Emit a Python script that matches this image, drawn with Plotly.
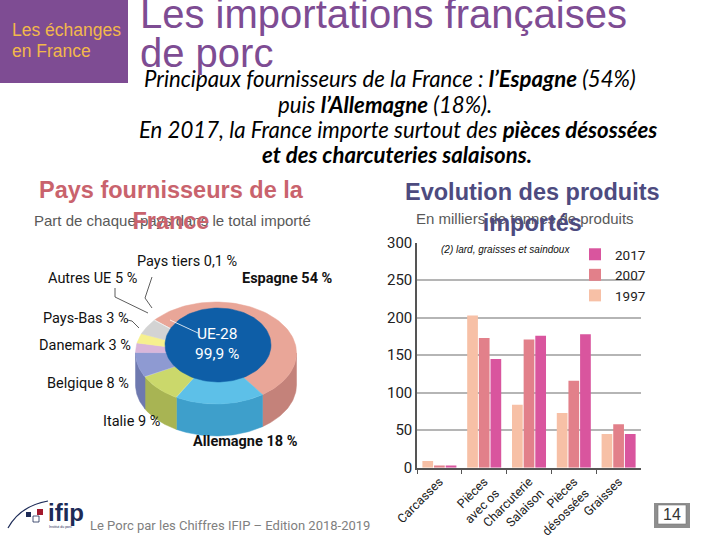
import numpy as np
import plotly.graph_objects as go

# ---------------- DATA ----------------
countries = ["Espagne", "Allemagne", "Italie", "Belgique", "Danemark", "Pays-Bas", "Autres UE", "Pays tiers"]
shares = [54, 18, 9, 8, 3, 3, 5, 0.1]
share_labels = ["<b>Espagne 54 %</b>", "<b>Allemagne 18 %</b>", "Italie 9 %", "Belgique 8 %",
                "Danemark 3 %", "Pays-Bas 3 %", "Autres UE 5 %", "Pays tiers 0,1 %"]
ue_label = "UE-28<br>99,9 %"

products = ["Carcasses", "Pièces<br>avec os", "Charcuterie<br>Salaison", "Pièces<br>désossées", "Graisses"]
years = ["1997", "2007", "2017"]
v1997 = [9, 203, 84, 73, 45]
v2007 = [3, 173, 171, 116, 58]
v2017 = [3, 145, 176, 178, 45]
y_ticks = [0, 50, 100, 150, 200, 250, 300]

# ---------------- STYLE ----------------
W, H = 720, 540
NARROW = "Roboto, Liberation Sans, sans-serif"
ARIAL = "Liberation Sans, Arial, sans-serif"
LATO = "Lato, Carlito, Calibri, sans-serif"
PURPLE = "#7E4C93"

top_colors = ["#E9A698", "#5DC0E8", "#CBD86B", "#8E9AD2", "#D9B6DA", "#F6F08E", "#D3D3D3", "#F4F4F4"]
side_colors = ["#C4827A", "#3E9FCB", "#A8B453", "#6E79AF", "#B893B9", "#D4CE6C", "#AFAFAF", "#D0D0D0"]
bar_colors = {"1997": "#F7C0A6", "2007": "#E2808A", "2017": "#D9559E"}

fig = go.Figure()

# ---------------- 3D DONUT (drawn on a pixel overlay axis) ----------------
cx, cy, a, b, depth = 216, 353, 80.5, 51, 32
start = 139.5
total = sum(shares)
bounds = [start]
for s in shares:
    bounds.append(bounds[-1] - 360 * s / total)


def pt(t, dy=0.0):
    r = np.radians(t)
    return cx + a * np.cos(r), cy - b * np.sin(r) + dy


# sides (front half only)
for i in range(len(shares)):
    hi, lo = bounds[i], bounds[i + 1]
    lo2, hi2 = max(lo, -180), min(hi, 0)
    if hi2 <= lo2:
        continue
    ts = np.linspace(lo2, hi2, 40)
    xs_top, ys_top = pt(ts)
    xs_bot, ys_bot = pt(ts[::-1], depth)
    xs = np.concatenate([xs_top, xs_bot, xs_top[:1]])
    ys = np.concatenate([ys_top, ys_bot, ys_top[:1]])
    fig.add_trace(go.Scatter(x=xs, y=ys, fill="toself", fillcolor=side_colors[i], mode="lines",
                             line=dict(color=side_colors[i], width=0.5), hoverinfo="skip",
                             showlegend=False, xaxis="x2", yaxis="y2"))

# top faces
for i in range(len(shares)):
    hi, lo = bounds[i], bounds[i + 1]
    ts = np.linspace(hi, lo, 80)
    xs, ys = pt(ts)
    xs = np.concatenate([[cx], xs, [cx]])
    ys = np.concatenate([[cy], ys, [cy]])
    fig.add_trace(go.Scatter(x=xs, y=ys, fill="toself", fillcolor=top_colors[i], mode="lines",
                             line=dict(color=top_colors[i], width=0.5), hoverinfo="skip",
                             showlegend=False, xaxis="x2", yaxis="y2"))

# inner UE-28 disk
ts = np.linspace(0, 360, 120)
ix, iy, ia, ib = 218, 345, 53, 37
fig.add_trace(go.Scatter(x=ix + ia * np.cos(np.radians(ts)), y=iy - ib * np.sin(np.radians(ts)),
                         fill="toself", fillcolor="#0E5EA7", mode="lines",
                         line=dict(color="#0E5EA7", width=0.5), hoverinfo="skip",
                         showlegend=False, xaxis="x2", yaxis="y2"))

# ---------------- BAR CHART ----------------
for yr, vals in zip(years, [v1997, v2007, v2017]):
    fig.add_trace(go.Bar(x=products, y=vals, name=yr, marker=dict(color=bar_colors[yr], line=dict(width=0)),
                         xaxis="x", yaxis="y"))

ann = []


def A(x, y, text, size, color="#000", family=ARIAL, xanchor="center", yanchor="middle", align="center"):
    ann.append(dict(x=x, y=y, xref="x2", yref="y2", text=text, showarrow=False,
                    font=dict(size=size, color=color, family=family),
                    xanchor=xanchor, yanchor=yanchor, align=align))


# header
A(10, 30, "Les échanges", 17.5, "#F2B84B", ARIAL, xanchor="left")
A(10, 51, "en France", 17.5, "#F2B84B", ARIAL, xanchor="left")
A(138, 14, "Les importations françaises", 40, PURPLE, ARIAL, xanchor="left")
A(138, 53, "de porc", 40, PURPLE, ARIAL, xanchor="left")

# italic paragraph
PS = 22.2
A(390, 78, "<i>Principaux fournisseurs de la France : <b>l’Espagne</b> (54%)</i>", PS, "#000", LATO)
A(385, 104, "<i>puis <b>l’Allemagne</b> (18%).</i>", PS, "#000", LATO)
A(398, 129, "<i>En 2017, la France importe surtout des <b>pièces désossées</b></i>", PS, "#000", LATO)
A(397, 154, "<i><b>et des charcuteries salaisons.</b></i>", PS, "#000", LATO)

# section titles (subtitles first, titles drawn over them)
A(172, 220, "Part de chaque pays dans le total importé", 15, "#595959", ARIAL)
A(525, 218, "En milliers de tonnes de produits", 15, "#595959", ARIAL)
A(171, 205, "<b>Pays fournisseurs de la<br>France</b>", 23.5, "#C9636D", ARIAL)
A(532, 207, "<b>Evolution des produits<br>importés</b>", 23.5, "#4D4B7F", ARIAL)

# pie labels
label_pos = [(287, 278), (245, 441), (131, 421), (88, 383), (85, 345), (86, 318), (92, 278), (187, 261)]
for (lx, ly), lab in zip(label_pos, share_labels):
    A(lx, ly, lab, 14.5, "#111", NARROW)
A(217, 344, ue_label, 15.5, "#FFFFFF", NARROW)

# bar note
A(505, 249, "<i>(2) lard, graisses et saindoux</i>", 10, "#111", ARIAL)

# footer
A(230, 525, "Le Porc par les Chiffres IFIP – Edition 2018-2019", 13, "#808080", NARROW)
A(66, 512, "<b>ifip</b>", 24, "#1D2B57", ARIAL)
A(60, 527, "Institut du porc", 3.5, "#1D2B57", ARIAL)
A(672, 514, "14", 16, "#333", ARIAL)

fig.update_layout(annotations=ann)

shapes = []
# header purple box
shapes.append(dict(type="rect", xref="x2", yref="y2", x0=0, x1=128, y0=0, y1=83,
                   fillcolor=PURPLE, line=dict(width=0), layer="below"))
# leader lines
lc = dict(color="#333", width=0.8)
shapes.append(dict(type="path", xref="x2", yref="y2", path="M 115 288 L 115 297 L 148 313", line=lc))
shapes.append(dict(type="path", xref="x2", yref="y2", path="M 170 320 L 198 333",
                   line=dict(color="#FFFFFF", width=0.8)))
shapes.append(dict(type="path", xref="x2", yref="y2", path="M 152 277 L 145 298 L 152 308", line=lc))
shapes.append(dict(type="path", xref="x2", yref="y2", path="M 127 320 L 132 321 L 139 328", line=lc))
# ifip logo
shapes.append(dict(type="path", xref="x2", yref="y2", path="M 8 528 Q 20 506 48 501",
                   line=dict(color="#1D2B57", width=1.2)))
shapes.append(dict(type="rect", xref="x2", yref="y2", x0=26, x1=31, y0=512, y1=517,
                   fillcolor="#1D2B57", line=dict(width=0)))
shapes.append(dict(type="rect", xref="x2", yref="y2", x0=37, x1=43, y0=509, y1=515,
                   fillcolor="#A3192D", line=dict(width=0)))
shapes.append(dict(type="rect", xref="x2", yref="y2", x0=33, x1=39, y0=516, y1=522,
                   fillcolor="rgba(0,0,0,0)", line=dict(color="#1D2B57", width=0.8)))
# page book icon
shapes.append(dict(type="rect", xref="x2", yref="y2", x0=654, x1=690, y0=503, y1=528,
                   fillcolor="#8E8E8E", line=dict(width=0), layer="below"))
shapes.append(dict(type="rect", xref="x2", yref="y2", x0=658, x1=686, y0=505, y1=524,
                   fillcolor="#FFFFFF", line=dict(color="#777", width=0.6), layer="below"))
fig.update_layout(shapes=shapes)

y0_px, y300_px = 467.7, 242.7
fig.update_layout(
    width=W, height=H, autosize=False,
    margin=dict(l=0, r=0, t=0, b=0, pad=0, autoexpand=False),
    paper_bgcolor="white", plot_bgcolor="rgba(0,0,0,0)",
    barmode="group", bargap=0.22, bargroupgap=0.08,
    showlegend=True,
    legend=dict(x=575 / W, y=1 - 239 / H, xanchor="left", yanchor="top", traceorder="reversed",
                bgcolor="rgba(0,0,0,0)", font=dict(family=NARROW, size=13.5, color="#222"),
                tracegroupgap=0, itemwidth=30),
    xaxis=dict(domain=[417 / W, 641 / W], anchor="y", type="category", showline=True,
               linecolor="#555", linewidth=1.5, ticks="outside", tickson="boundaries", ticklen=5,
               tickcolor="#555", tickangle=-45, tickfont=dict(family=NARROW, size=12.5, color="#222"),
               showgrid=False, fixedrange=True, automargin=False),
    yaxis=dict(domain=[1 - y0_px / H, 1 - y300_px / H], anchor="x", range=[0, 300], tickvals=y_ticks,
               showline=True, linecolor="#555", linewidth=1.5, gridcolor="#B5B5B5", gridwidth=2,
               zeroline=False, tickfont=dict(family=NARROW, size=15, color="#222"), ticks="",
               fixedrange=True, automargin=False),
    xaxis2=dict(domain=[0, 1], range=[0, W], visible=False, anchor="y2", fixedrange=True, automargin=False),
    yaxis2=dict(domain=[0, 1], range=[H, 0], visible=False, anchor="x2", fixedrange=True, automargin=False),
)

fig.write_html("out.html")
